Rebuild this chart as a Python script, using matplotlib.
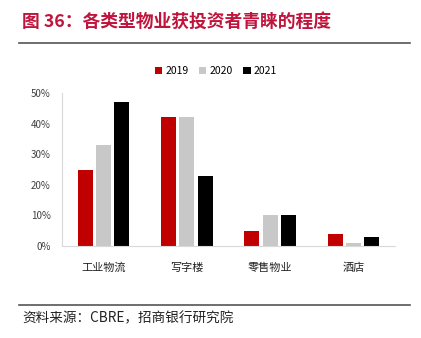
import numpy as np
import matplotlib
matplotlib.use("Agg")
import matplotlib.pyplot as plt
from matplotlib.ticker import PercentFormatter

plt.rcParams['font.family'] = ['Noto Sans CJK SC', 'DejaVu Sans']

categories = ["工业物流", "写字楼", "零售物业", "酒店"]
years = ["2019", "2020", "2021"]
v2019 = [25, 42, 5, 4]
v2020 = [33, 42, 10, 1]
v2021 = [47, 23, 10, 3]
colors = ["#C00000", "#C8C8C8", "#000000"]

W, H = 421, 338
fig = plt.figure(figsize=(W / 100, H / 100), dpi=100)

# title and rules
fig.text(22 / W, 1 - 22 / H, "图 36：各类型物业获投资者青睐的程度", color="#C0143C",
         fontsize=12.8, fontweight="bold", va="center", ha="left")
fig.add_artist(plt.Line2D([19 / W, 410 / W], [1 - 43 / H] * 2, color="#555555", lw=1.2))
fig.add_artist(plt.Line2D([19 / W, 410 / W], [1 - 305 / H] * 2, color="#555555", lw=1.2))
fig.text(22 / W, 1 - 318 / H, "资料来源：CBRE，招商银行研究院", color="#222222",
         fontsize=9.8, va="center", ha="left")

ax = fig.add_axes([62 / W, 1 - 246 / H, 333 / W, 153 / H])
x = np.arange(len(categories))
bw = 0.18
step = 0.22
for i, (vals, yr) in enumerate(zip([v2019, v2020, v2021], years)):
    ax.bar(x + (i - 1) * step, vals, width=bw, color=colors[i], label=yr)

ax.set_xlim(-0.5, len(categories) - 0.5)
ax.set_ylim(0, 50)
ax.set_yticks(np.arange(0, 51, 10))
ax.yaxis.set_major_formatter(PercentFormatter(decimals=0))
ax.set_xticks(x)
ax.set_xticklabels(categories, fontsize=8)
ax.tick_params(axis="y", labelsize=7, colors="#404040", length=0, pad=8)
ax.tick_params(axis="x", length=0, pad=12, labelcolor="#222222")
for s in ["top", "right"]:
    ax.spines[s].set_visible(False)
for s in ["left", "bottom"]:
    ax.spines[s].set_color("#D9D9D9")

ax.legend(loc="center", bbox_to_anchor=(216 / W, 1 - 71 / H), bbox_transform=fig.transFigure,
          ncol=3, frameon=False, fontsize=7.5, handlelength=0.7, handleheight=0.7,
          handletextpad=0.3, columnspacing=1.0)

fig.savefig("out.png", dpi=100)
